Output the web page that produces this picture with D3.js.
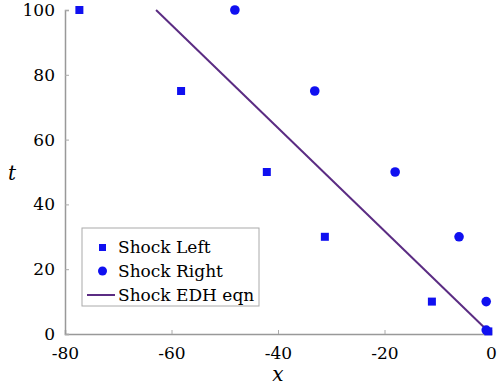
<!DOCTYPE html>
<html>
<head>
<meta charset="utf-8">
<script src="https://cdn.jsdelivr.net/npm/d3@7"></script>
<style>
  body { margin: 0; background: #fff; }
  text { font-family: "DejaVu Serif", "Liberation Serif", serif; }
</style>
</head>
<body>
<script>
// data
var shockLeft = [[-77.3, 100], [-58.2, 75], [-42.1, 50], [-31.2, 30], [-11.1, 10], [-0.5, 0.8]];
var shockRight = [[-48.1, 100], [-33.1, 75], [-18.0, 50], [-6.0, 30], [-0.9, 10], [-0.9, 1.2]];
var edhLine = [[-62.9, 100], [0, 0]];
var xTicks = [-80, -60, -40, -20, 0];
var yTicks = [0, 20, 40, 60, 80, 100];
var legendLabels = ["Shock Left", "Shock Right", "Shock EDH eqn"];

var width = 498, height = 385;
var margin = {top: 10, right: 7, bottom: 51, left: 65};

var svg = d3.select("body").append("svg")
    .attr("width", width)
    .attr("height", height);

var x = d3.scaleLinear().domain([-80, 0]).range([margin.left, width - margin.right]);
var y = d3.scaleLinear().domain([0, 100]).range([height - margin.bottom, margin.top]);

// axes (ticks point inward), plain hyphen for the minus sign
var fmt = d => String(d);
var xAxis = svg.append("g")
    .attr("transform", "translate(0," + y(0) + ")")
    .call(d3.axisBottom(x).tickValues(xTicks).tickSize(-4).tickPadding(10).tickFormat(fmt));
var yAxis = svg.append("g")
    .attr("transform", "translate(" + x(-80) + ",0)")
    .call(d3.axisLeft(y).tickValues(yTicks).tickSize(-4).tickPadding(10).tickFormat(fmt));

[xAxis, yAxis].forEach(function(g) {
  g.select(".domain").attr("stroke", "#999").attr("stroke-width", 1.5);
  g.selectAll(".tick line").attr("stroke", "#aaa");
  g.selectAll(".tick text").attr("fill", "#000").style("font-size", "17px")
    .style("font-family", "'DejaVu Serif', serif");
});
xAxis.selectAll(".tick text").attr("dy", "0.9em");

// axis labels
svg.append("text")
    .attr("x", x(-40))
    .attr("y", 381)
    .attr("text-anchor", "middle")
    .style("font-size", "20px")
    .style("font-style", "italic")
    .text("x");

svg.append("text")
    .attr("x", 12)
    .attr("y", 180)
    .attr("text-anchor", "middle")
    .style("font-size", "20px")
    .style("font-style", "italic")
    .text("t");

// line
var line = d3.line().x(d => x(d[0])).y(d => y(d[1]));
svg.append("path")
    .datum(edhLine)
    .attr("d", line)
    .attr("fill", "none")
    .attr("stroke", "#5b2c83")
    .attr("stroke-width", 2);

// markers
svg.selectAll(".sq")
    .data(shockLeft)
  .enter().append("rect")
    .attr("x", d => x(d[0]) - 4)
    .attr("y", d => y(d[1]) - 4)
    .attr("width", 8)
    .attr("height", 8)
    .attr("fill", "#1010f0");

svg.selectAll(".dot")
    .data(shockRight)
  .enter().append("circle")
    .attr("cx", d => x(d[0]))
    .attr("cy", d => y(d[1]))
    .attr("r", 4.8)
    .attr("fill", "#1010f0");

// legend
var lg = svg.append("g").attr("transform", "translate(82,228)");
lg.append("rect")
    .attr("width", 177).attr("height", 78)
    .attr("fill", "#fff").attr("stroke", "#aaa").attr("stroke-width", 1);

var rowY = [19, 43, 67];
lg.append("rect").attr("x", 17).attr("y", rowY[0] - 3).attr("width", 7).attr("height", 7).attr("fill", "#1010f0");
lg.append("circle").attr("cx", 20.5).attr("cy", rowY[1]).attr("r", 4.5).attr("fill", "#1010f0");
lg.append("line").attr("x1", 5).attr("x2", 33).attr("y1", rowY[2]).attr("y2", rowY[2])
    .attr("stroke", "#5b2c83").attr("stroke-width", 2);

lg.selectAll(".lbl")
    .data(legendLabels)
  .enter().append("text")
    .attr("x", 36)
    .attr("y", (d, i) => rowY[i] + 6)
    .style("font-size", "17px")
    .text(d => d);
</script>
</body>
</html>
